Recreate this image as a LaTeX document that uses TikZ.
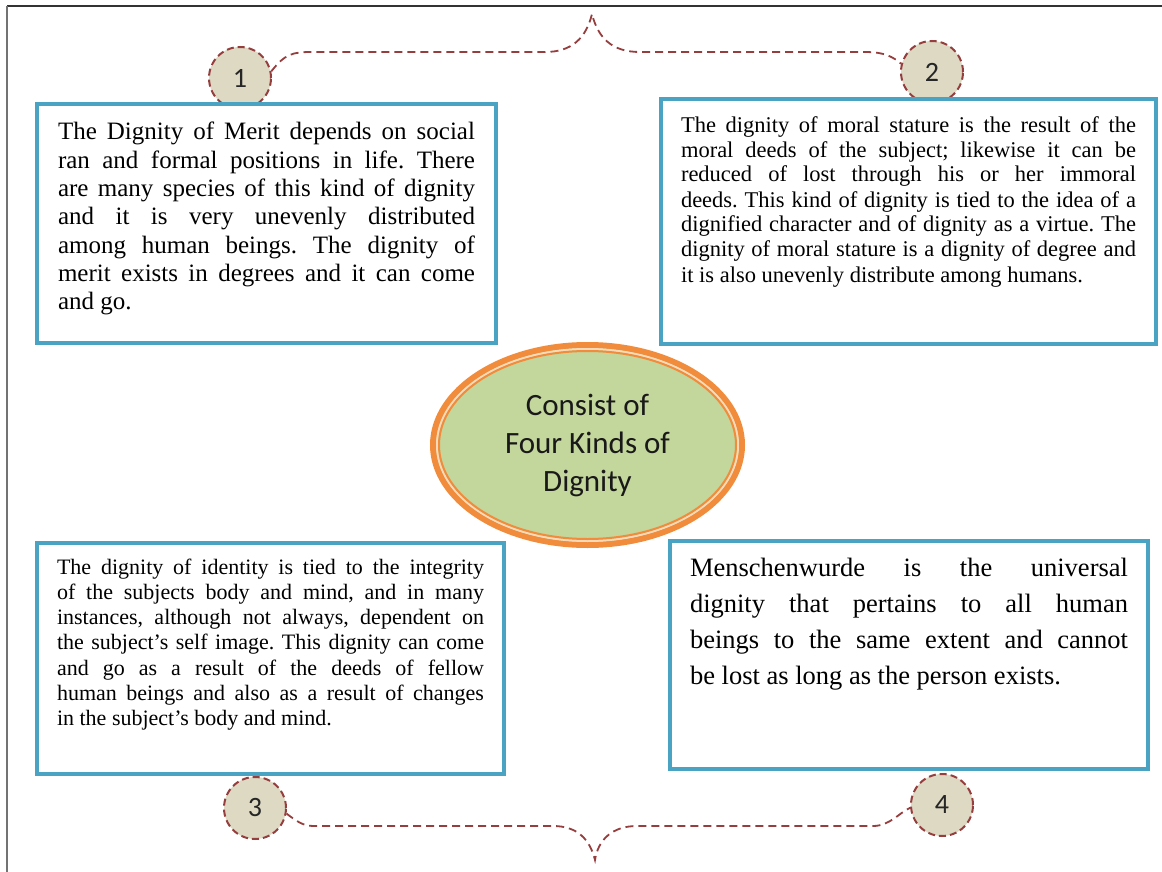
\documentclass[tikz,border=0pt]{standalone}
\usepackage{fontspec}
\setmainfont{Liberation Serif}
\newfontfamily\calibrifont{Carlito}
\usetikzlibrary{shapes.geometric}
\frenchspacing

\definecolor{boxblue}{RGB}{75,163,196}
\definecolor{hubgreen}{RGB}{195,214,155}
\definecolor{huborange}{RGB}{240,140,60}
\definecolor{hubpale}{RGB}{250,218,185}
\definecolor{tagfill}{RGB}{221,217,195}
\definecolor{tagline}{RGB}{150,62,62}

\begin{document}
\begin{tikzpicture}[x=1pt, y=-1pt,
    kindbox/.style={draw=boxblue, line width=4pt, fill=white, anchor=north west,
      align=justify, text=black},
    numtag/.style={circle, draw=tagline, fill=tagfill, line width=2pt,
      dash pattern=on 7pt off 4pt, minimum size=62pt, inner sep=0pt,
      font=\calibrifont\fontsize{28}{32}\selectfont, text=black!85},
    bracelink/.style={draw=tagline, line width=1.8pt, dash pattern=on 8pt off 5pt},
    hub/.style={ellipse, draw=huborange, line width=6pt, fill=hubgreen,
      minimum width=309pt, minimum height=200pt, inner sep=0pt, align=center,
      font=\calibrifont\fontsize{31}{38}\selectfont, text=black!90}]
  \useasboundingbox (0,0) rectangle (1162,872);

  % frame
  \draw[line width=1.5pt, black!80] (7,6) -- (1162,6);
  \draw[line width=1.5pt, black!55] (7,6) -- (7,872);

  % number tags
  \node[numtag] (n1) at (240,78) {1};
  \node[numtag] (n2) at (932,72) {2};
  \node[numtag] (n3) at (255,808) {3};
  \node[numtag] (n4) at (942,805) {4};

  % braces
  \coordinate (toptip) at (592,14);
  \coordinate (bottip) at (595,860);
  \draw[bracelink] (n1.12) .. controls (285,54) and (292,52) .. (312,52) -- (545,52)
    .. controls (572,52) and (586,38) .. (toptip)
    .. controls (598,38) and (612,52) .. (640,52) -- (865,52)
    .. controls (885,52) and (893,57) .. (n2.165);
  \draw[bracelink] (n3.-10) .. controls (300,824) and (305,826) .. (315,826) -- (553,826)
    .. controls (578,826) and (590,840) .. (bottip)
    .. controls (598,840) and (612,826) .. (637,826) -- (873,826)
    .. controls (890,826) and (900,812) .. (n4.185);

  % the four kinds
  \node[kindbox, text width=417pt, inner xsep=21pt, inner ysep=20pt,
        text height=16pt, text depth=183pt, font=\fontsize{25}{28.3}\selectfont]
    (merit) at (35,102) {The Dignity of Merit depends on social\linebreak
      ran and formal positions in life. There\linebreak
      are many species of this kind of dignity\linebreak
      and it is very unevenly distributed\linebreak
      among human beings. The dignity of\linebreak
      merit exists in degrees and it can come\linebreak
      and go.};
  \node[kindbox, text width=455pt, inner xsep=20pt, inner ysep=19pt,
        text height=14pt, text depth=193pt, font=\fontsize{22.5}{25}\selectfont]
    (moral) at (659,97) {The dignity of moral stature is the result of the\linebreak
      moral deeds of the subject; likewise it can be\linebreak
      reduced of lost through his or her immoral\linebreak
      deeds. This kind of dignity is tied to the idea of a\linebreak
      dignified character and of dignity as a virtue. The\linebreak
      dignity of moral stature is a dignity of degree and\linebreak
      it is also unevenly distribute among humans.};
  \node[kindbox, text width=427pt, inner xsep=20pt, inner ysep=17pt,
        text height=14pt, text depth=183pt, font=\fontsize{22}{25.3}\selectfont]
    (identity) at (35,541) {The dignity of identity is tied to the integrity\linebreak
      of the subjects body and mind, and in many\linebreak
      instances, although not always, dependent on\linebreak
      the subject’s self image. This dignity can come\linebreak
      and go as a result of the deeds of fellow\linebreak
      human beings and also as a result of changes\linebreak
      in the subject’s body and mind.};
  \node[kindbox, text width=438pt, inner xsep=20pt, inner ysep=17pt,
        text height=18pt, text depth=176pt, font=\fontsize{26.5}{36}\selectfont]
    (universal) at (668,539) {Menschenwurde is the universal\linebreak
      dignity that pertains to all human\linebreak
      beings to the same extent and cannot\linebreak
      be lost as long as the person exists.};

  % centre
  \node[hub] (hub) at (587.5,445) {Consist of\\Four Kinds of\\Dignity};
  \draw[hubpale, line width=2pt] (hub.center) ellipse [x radius=150.5pt, y radius=96pt];
  \draw[huborange, line width=2pt] (hub.center) ellipse [x radius=148.5pt, y radius=94pt];
\end{tikzpicture}
\end{document}
